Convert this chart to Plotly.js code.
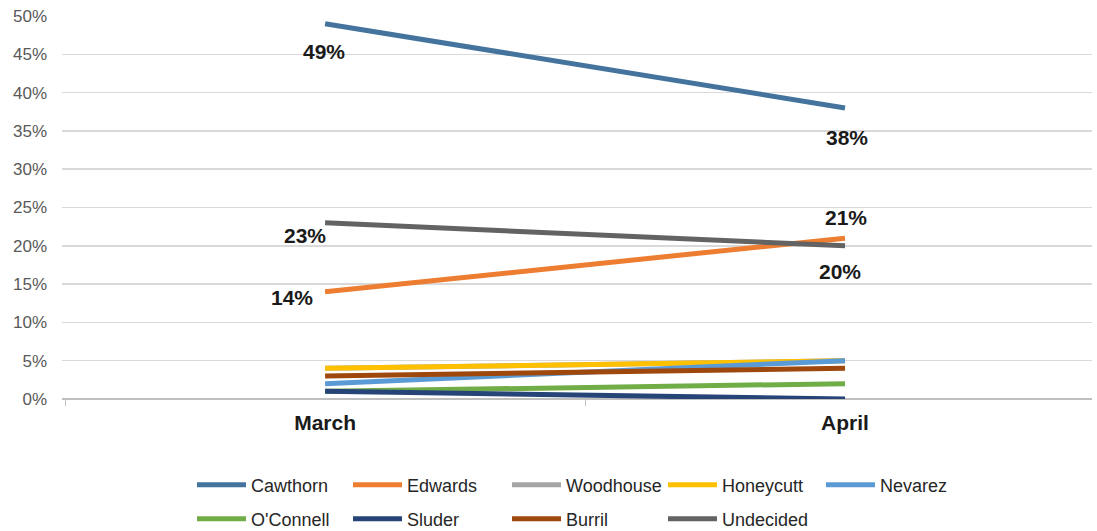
<!DOCTYPE html>
<html><head><meta charset="utf-8">
<script src="https://cdn.plot.ly/plotly-3.0.1.min.js"></script>
<style>body{margin:0;background:#fff}#chart{width:1097px;height:531px}</style>
</head><body><div id="chart"></div>
<script>
const months = ["March", "April"];
const names = ["Cawthorn", "Edwards", "Woodhouse", "Honeycutt", "Nevarez", "O'Connell", "Sluder", "Burril", "Undecided"];
const colors = ["#44749D", "#ED7D31", "#A5A5A5", "#FFC000", "#5B9BD5", "#70AD47", "#264478", "#9E480E", "#636363"];
const cawthorn = [0.49, 0.38];
const edwards = [0.14, 0.21];
const woodhouse = [0.04, 0.05];
const honeycutt = [0.04, 0.05];
const nevarez = [0.02, 0.05];
const oconnell = [0.01, 0.02];
const sluder = [0.01, 0.00];
const burril = [0.03, 0.04];
const undecided = [0.23, 0.20];
const seriesValues = [cawthorn, edwards, woodhouse, honeycutt, nevarez, oconnell, sluder, burril, undecided];
const yTicks = [0, 0.05, 0.10, 0.15, 0.20, 0.25, 0.30, 0.35, 0.40, 0.45, 0.50];
const yTickText = ["0%", "5%", "10%", "15%", "20%", "25%", "30%", "35%", "40%", "45%", "50%"];

const legendX = [197, 353, 512, 668, 826, 197, 353, 512, 668];
const legendRow = [0, 0, 0, 0, 0, 1, 1, 1, 1];
const rowY = [485, 519];

const traces = names.map((n, i) => ({
  type: "scatter", mode: "lines", name: n, x: months, y: seriesValues[i],
  line: {color: colors[i], width: 5},
  legend: i === 0 ? "legend" : "legend" + (i + 1),
  hoverinfo: "skip"
}));

const labelSpecs = [
  {s: 0, p: 0, dx: -1, dy: -28}, {s: 0, p: 1, dx: 2, dy: -30},
  {s: 8, p: 0, dx: -20, dy: -13}, {s: 8, p: 1, dx: -5, dy: -26},
  {s: 1, p: 0, dx: -33, dy: -6}, {s: 1, p: 1, dx: 1, dy: 21}
];
const annotations = labelSpecs.map(l => ({
  x: months[l.p], y: seriesValues[l.s][l.p], xref: "x", yref: "y",
  text: Math.round(seriesValues[l.s][l.p] * 100) + "%", showarrow: false,
  xshift: l.dx, yshift: l.dy,
  font: {family: "Liberation Sans, Arial, sans-serif", size: 21, color: "#1a1a1a", weight: "bold"}
}));

const layout = {
  width: 1097, height: 531,
  margin: {l: 62, r: 5, t: 16, b: 132},
  paper_bgcolor: "#fff", plot_bgcolor: "#fff",
  showlegend: true,
  xaxis: {
    type: "category", range: [-0.506, 1.475],
    showgrid: false, zeroline: false,
    showline: false, ticks: "outside", tickson: "boundaries", ticklen: 6, tickcolor: "#BFBFBF", tickwidth: 1,
    tickfont: {family: "Liberation Sans, Arial, sans-serif", size: 21, color: "#1a1a1a", weight: "bold"},
    ticklabelstandoff: 9
  },
  yaxis: {
    range: [0, 0.5], tickvals: yTicks, ticktext: yTickText,
    showgrid: true, gridcolor: "#D9D9D9", gridwidth: 1.5,
    zeroline: true, zerolinecolor: "#BFBFBF", zerolinewidth: 1.5,
    showline: false, ticks: "",
    tickfont: {family: "Liberation Sans, Arial, sans-serif", size: 17, color: "#595959"},
    ticklabelstandoff: 14
  },
  annotations: annotations
};

names.forEach((n, i) => {
  const key = i === 0 ? "legend" : "legend" + (i + 1);
  layout[key] = {
    orientation: "h", xref: "container", yref: "container",
    x: (legendX[i] - 5) / 1097, xanchor: "left",
    y: 1 - rowY[legendRow[i]] / 531, yanchor: "middle",
    bgcolor: "rgba(0,0,0,0)", itemwidth: 49,
    font: {family: "Liberation Sans, Arial, sans-serif", size: 18, color: "#262626"}
  };
});

Plotly.newPlot("chart", traces, layout, {staticPlot: true});
</script></body></html>
